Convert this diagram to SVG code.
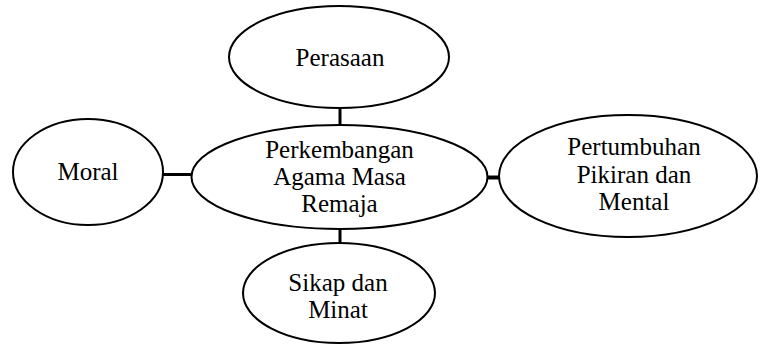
<svg xmlns="http://www.w3.org/2000/svg" width="760" height="346" viewBox="0 0 760 346">
<style>
.node{fill:#fff;stroke:#000;stroke-width:2}
.conn{stroke:#000;stroke-width:3;fill:none}
text{font-family:"Liberation Serif","Times New Roman",serif;font-size:25px;fill:#000;text-anchor:middle}
</style>
<rect width="760" height="346" fill="#fff"/>
<g id="connectors">
<line class="conn" x1="340" y1="108" x2="340" y2="126"/>
<line class="conn" x1="340" y1="228" x2="340" y2="244"/>
<line class="conn" x1="162" y1="174.5" x2="193" y2="174.5"/>
<line class="conn" x1="486" y1="177.5" x2="500" y2="177.5" style="stroke-width:4"/>
</g>
<g id="perasaan">
<ellipse class="node" cx="339" cy="57" rx="110" ry="51"/>
<text x="340" y="66">Perasaan</text>
</g>
<g id="moral">
<ellipse class="node" cx="88" cy="172" rx="75" ry="53"/>
<text x="88" y="180">Moral</text>
</g>
<g id="center">
<ellipse class="node" cx="339.5" cy="177" rx="148" ry="52"/>
<text x="339.5" y="158">Perkembangan</text>
<text x="339.5" y="185">Agama Masa</text>
<text x="339.5" y="212">Remaja</text>
</g>
<g id="pertumbuhan">
<ellipse class="node" cx="628" cy="176" rx="129" ry="61"/>
<text x="634" y="155">Pertumbuhan</text>
<text x="634" y="183">Pikiran dan</text>
<text x="634" y="210">Mental</text>
</g>
<g id="sikap">
<ellipse class="node" cx="339" cy="293" rx="96" ry="50"/>
<text x="338" y="291">Sikap dan</text>
<text x="338" y="318">Minat</text>
</g>
</svg>
